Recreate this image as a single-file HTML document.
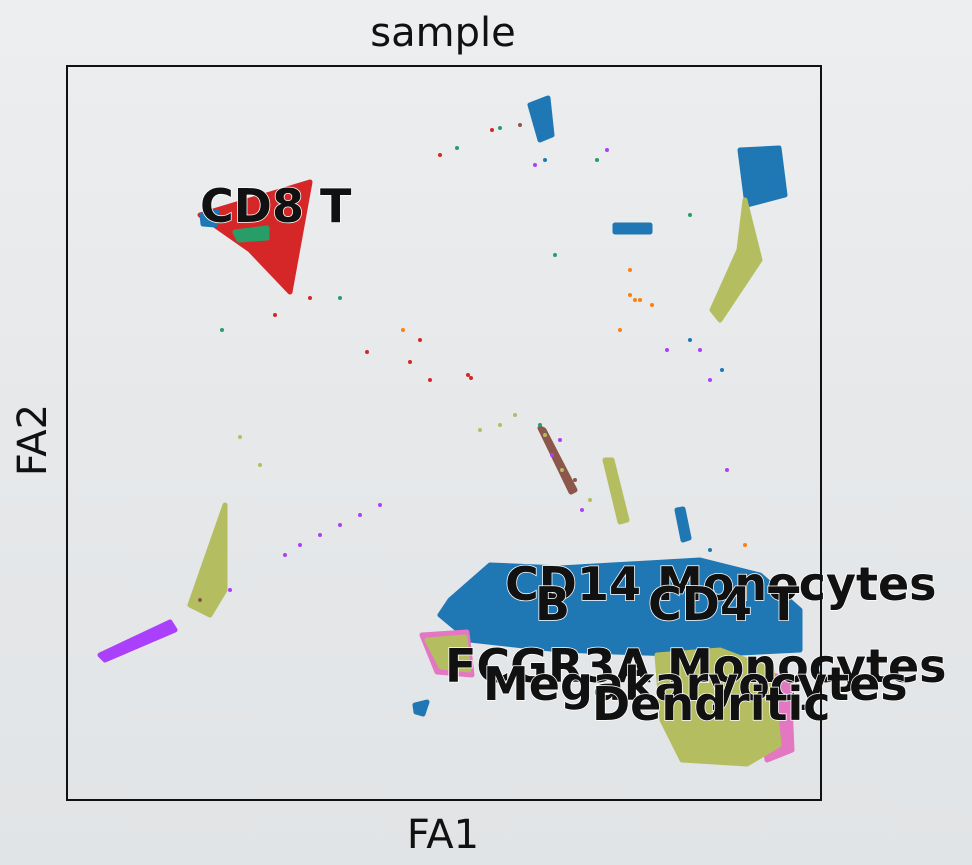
<!DOCTYPE html>
<html><head><meta charset="utf-8">
<style>
html,body{margin:0;padding:0;width:972px;height:865px;overflow:hidden;background:linear-gradient(180deg,#eceef0 0%,#e6e8ea 50%,#e1e4e6 100%);}
svg{position:absolute;left:0;top:0;}
text{font-family:"DejaVu Sans","Liberation Sans",sans-serif;}
</style></head>
<body>
<svg id="chart" width="972" height="865">
  <text x="443" y="46" font-size="40" text-anchor="middle" fill="#111">sample</text>
  <text x="443" y="848" font-size="40" text-anchor="middle" fill="#111">FA1</text>
  <text x="0" y="0" font-size="40" text-anchor="middle" fill="#111" transform="translate(46,440) rotate(-90)">FA2</text>
  <g id="marks"></g>
  <g id="labels"></g>
  <rect x="67" y="66" width="754" height="734" fill="none" stroke="#111" stroke-width="2"/>
</svg>
<script>
// data domain: x 0..754, y 0..734
const clusterNames = ["CD8 T","CD14 Monocytes","B","CD4 T","FCGR3A Monocytes","Megakaryocytes","Dendritic"];
const labelX = [133,438,468,581,378,416,525];
const labelY = [578,200,180,180,118,100,80];
const blobColors = ["#d62728","#1f77b4","#279e68","#1f77b4","#1f77b4","#b5bd61","#1f77b4","#e377c2","#b5bd61","#e377c2","#b5bd61","#b5bd61","#aa40fc","#1f77b4","#1f77b4","#b5bd61","#1f77b4","#8c564b"];
const blobShapes = [
  [[133,585],[243,618],[223,508],[183,550]],
  [[135,585],[150,588],[148,575],[136,576]],
  [[168,568],[200,572],[200,562],[172,560]],
  [[463,695],[481,702],[485,665],[473,660]],
  [[673,650],[712,652],[718,605],[680,595]],
  [[678,600],[693,540],[653,480],[645,490],[672,550]],
  [[383,200],[423,235],[493,232],[633,240],[693,225],[733,190],[733,150],[633,145],[493,150],[403,160],[373,185]],
  [[355,165],[400,168],[405,125],[370,128]],
  [[360,160],[398,163],[402,130],[374,133]],
  [[690,130],[722,120],[725,50],[700,40],[695,80]],
  [[590,145],[653,150],[705,130],[712,55],[680,36],[615,40],[595,80]],
  [[123,195],[158,295],[158,210],[143,185]],
  [[33,145],[103,178],[108,170],[38,140]],
  [[348,95],[360,98],[356,86],[349,88]],
  [[548,575],[583,575],[583,568],[548,568]],
  [[538,340],[545,340],[560,280],[553,278]],
  [[610,290],[616,291],[622,262],[616,260]],
  [[473,372],[477,370],[508,310],[504,308]]
];
const ptX = [373,390,425,433,453,468,478,155,208,243,273,300,343,363,401,404,336,353,173,193,313,293,273,253,233,218,163,133,413,433,448,473,478,563,568,563,493,508,523,623,633,643,623,488,553,573,585,643,678,530,540,600,655,660,485,495,515];
const ptY = [645,652,670,672,675,635,640,470,485,502,502,448,438,420,425,422,470,460,363,335,295,285,275,265,255,245,210,200,370,375,385,375,365,530,500,505,360,320,300,585,450,420,460,545,470,500,495,250,255,640,650,450,430,330,345,330,290];
const ptC = ["#d62728","#279e68","#d62728","#279e68","#8c564b","#aa40fc","#1f77b4","#279e68","#d62728","#d62728","#279e68","#d62728","#d62728","#d62728","#d62728","#d62728","#ff7f0e","#d62728","#b5bd61","#b5bd61","#aa40fc","#aa40fc","#aa40fc","#aa40fc","#aa40fc","#aa40fc","#aa40fc","#8c564b","#b5bd61","#b5bd61","#b5bd61","#279e68","#b5bd61","#ff7f0e","#ff7f0e","#ff7f0e","#aa40fc","#8c564b","#b5bd61","#279e68","#aa40fc","#aa40fc","#1f77b4","#279e68","#ff7f0e","#ff7f0e","#ff7f0e","#1f77b4","#ff7f0e","#279e68","#aa40fc","#aa40fc","#1f77b4","#aa40fc","#aa40fc","#b5bd61","#aa40fc"];

const X0=67,Y0=800,W=754,H=734;
function sx(v){return X0+v/754*W;}
function sy(v){return Y0-v/734*H;}
const NS="http://www.w3.org/2000/svg";
const marks=document.getElementById('marks');
blobShapes.forEach((shape,i)=>{
  const p=document.createElementNS(NS,'polygon');
  p.setAttribute('points',shape.map(q=>sx(q[0])+','+sy(q[1])).join(' '));
  p.setAttribute('fill',blobColors[i]);
  p.setAttribute('stroke',blobColors[i]);
  p.setAttribute('stroke-width','5');
  p.setAttribute('stroke-linejoin','round');
  
  
  marks.appendChild(p);
});
ptX.forEach((x,i)=>{
  const c=document.createElementNS(NS,'circle');
  c.setAttribute('cx',sx(x));c.setAttribute('cy',sy(ptY[i]));c.setAttribute('r','2');
  c.setAttribute('fill',ptC[i]);
  
  
  marks.appendChild(c);
});
const labels=document.getElementById('labels');
clusterNames.forEach((n,i)=>{
  const t=document.createElementNS(NS,'text');
  t.setAttribute('x',sx(labelX[i]));t.setAttribute('y',sy(labelY[i]));
  t.setAttribute('font-size','46');t.setAttribute('font-weight','bold');
  t.setAttribute('fill','#111');t.setAttribute('stroke','#fff');
  t.setAttribute('stroke-width','1.5');t.setAttribute('paint-order','stroke');
  t.textContent=n;
  
  
  labels.appendChild(t);
});
</script>
</body></html>
